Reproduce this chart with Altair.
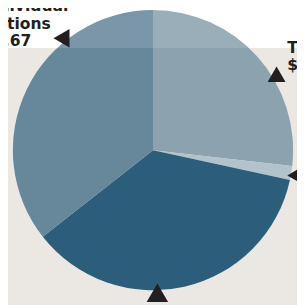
import altair as alt
import pandas as pd

# slice data (clockwise from 12 o'clock)
categories = ["Tuition", "Other", "Grants", "Individual Contributions"]
shares = [26.8, 1.6, 36.0, 35.6]
colors = ["#8ca2af", "#b3c3cc", "#2c5d7b", "#67879b"]

# annotation text (partially cropped in the reference)
left_lines = ["Individual", "Contributions", "$1.67"]
right_lines = ["Tuition", "$"]

df = pd.DataFrame({"category": categories, "value": shares, "order": list(range(len(categories)))})
one = alt.Data(values=[{}])

W, H = 297, 297
CX, CY, R = 149, 142, 144
INK = "#231f20"
FONT = "DejaVu Sans"

band = alt.Chart(one).mark_rect(color="#ebe7e3").encode(
    x=alt.value(-10), x2=alt.value(W + 10), y=alt.value(37), y2=alt.value(H + 10)
)

pie = alt.Chart(df).mark_arc(radius=R).encode(
    theta=alt.Theta("value:Q", stack=True),
    color=alt.Color("category:N", scale=alt.Scale(domain=categories, range=colors), legend=None),
    order=alt.Order("order:Q"),
    x=alt.value(CX),
    y=alt.value(CY),
)

overlay = alt.Chart(one).mark_rect(color="white", opacity=0.13).encode(
    x=alt.value(-10), x2=alt.value(W + 10), y=alt.value(-10), y2=alt.value(37)
)

layers = [band, pie, overlay]

# left label lines (right-aligned so left part is cropped)
left_pos = [(62, -1), (44, 17), (24, 35)]
for txt, (px, py) in zip(left_lines, left_pos):
    layers.append(
        alt.Chart(one).mark_text(
            text=txt, align="right", baseline="alphabetic", font=FONT, fontWeight="bold",
            fontSize=16, color=INK
        ).encode(x=alt.value(px), y=alt.value(py))
    )

right_pos = [(287, 42), (287, 60)]
for txt, (px, py) in zip(right_lines, right_pos):
    layers.append(
        alt.Chart(one).mark_text(
            text=txt, align="left", baseline="alphabetic", font=FONT, fontWeight="bold",
            fontSize=16, color=INK
        ).encode(x=alt.value(px), y=alt.value(py))
    )

# pointer triangles
tri = [("triangle-left", 55, 27, 360), ("triangle-up", 276, 64, 340),
       ("triangle-left", 295, 168, 340), ("triangle-up", 153.5, 288.5, 484)]
for shape, px, py, sz in tri:
    layers.append(
        alt.Chart(one).mark_point(shape=shape, filled=True, color=INK, opacity=1, size=sz, strokeWidth=0)
        .encode(x=alt.value(px), y=alt.value(py))
    )

chart = alt.layer(*layers).properties(
    width=W, height=H, padding=0, background="white",
    autosize=alt.AutoSizeParams(type="none"),
).configure_view(stroke=None)

chart.save("out.html", embed_options={"renderer": "svg", "actions": False})
